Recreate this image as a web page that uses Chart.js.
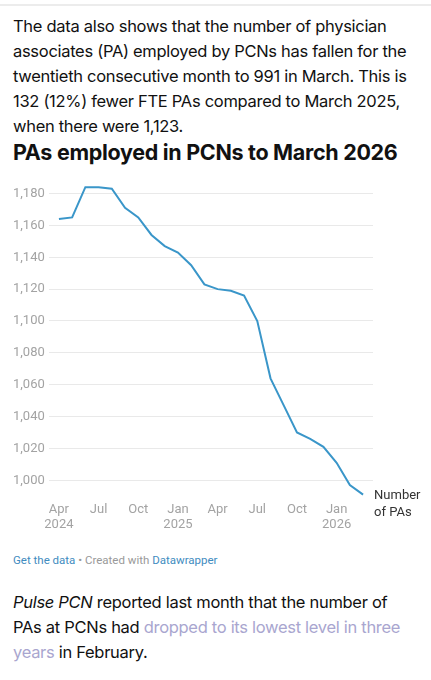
<!DOCTYPE html>
<html>
<head>
<meta charset="utf-8">
<script src="https://cdn.jsdelivr.net/npm/chart.js@4"></script>
<style>
  body { margin: 0; width: 431px; height: 680px; background: #fff; position: relative; overflow: hidden; font-family: Inter, "Open Sans", sans-serif; color: #111; }
  .rule { position: absolute; top: 4px; left: 0; width: 431px; height: 2px; background: #ececec; }
  .para { position: absolute; left: 13px; font-size: 16.5px; line-height: 25px; white-space: nowrap; letter-spacing: -0.3px; }
  .p1 { top: 14px; }
  .p2 { top: 590px; }
  h1 { position: absolute; left: 13px; top: 138px; margin: 0; font-size: 21.5px; font-weight: 700; line-height: 28px; letter-spacing: -0.3px; white-space: nowrap; }
  .foot { position: absolute; left: 13px; top: 553px; font-family: Roboto, sans-serif; font-size: 11.5px; color: #999; white-space: nowrap; }
  .foot a { color: #3f8cc0; text-decoration: none; }
  .link { color: #a9a6cf; }
  #wrap { position: absolute; left: 0; top: 170px; width: 431px; height: 370px; }
</style>
</head>
<body>
<div class="rule"></div>
<div class="para p1">The data also shows that the number of physician<br>associates (PA) employed by PCNs has fallen for the<br>twentieth consecutive month to 991 in March. This is<br>132 (12%) fewer FTE PAs compared to March 2025,<br>when there were 1,123.</div>
<h1>PAs employed in PCNs to March 2026</h1>
<div id="wrap"><canvas id="chartPAs"></canvas></div>
<div class="foot"><a>Get the data</a> • Created with <a>Datawrapper</a></div>
<div class="para p2"><i>Pulse PCN</i> reported last month that the number of<br>PAs at PCNs had <span class="link">dropped to its lowest level in three</span><br><span class="link">years</span> in February.</div>

<script>
// monthly, Apr 2024 .. Mar 2026
const months = ["Apr 2024","May 2024","Jun 2024","Jul 2024","Aug 2024","Sep 2024","Oct 2024","Nov 2024","Dec 2024",
  "Jan 2025","Feb 2025","Mar 2025","Apr 2025","May 2025","Jun 2025","Jul 2025","Aug 2025","Sep 2025","Oct 2025",
  "Nov 2025","Dec 2025","Jan 2026","Feb 2026","Mar 2026"];
const paCount = [1164, 1165, 1184, 1184, 1183, 1171, 1165, 1154, 1147, 1143, 1135, 1123,
  1120, 1119, 1116, 1100, 1064, 1047, 1030, 1026, 1021, 1011, 997, 991];
const xTickIndex = [0, 3, 6, 9, 12, 15, 18, 21];
const xTickLabels = [["Apr", "2024"], "Jul", "Oct", ["Jan", "2025"], "Apr", "Jul", "Oct", ["Jan", "2026"]];
const yTicks = [1000, 1020, 1040, 1060, 1080, 1100, 1120, 1140, 1160, 1180];
const seriesLabel = ["Number", "of PAs"];

const endLabel = {
  id: "endLabel",
  afterDatasetsDraw(chart) {
    const meta = chart.getDatasetMeta(0);
    const pt = meta.data[meta.data.length - 1];
    const ctx = chart.ctx;
    ctx.save();
    ctx.font = "13px Roboto";
    ctx.fillStyle = "#333";
    ctx.textBaseline = "middle";
    seriesLabel.forEach((t, i) => ctx.fillText(t, pt.x + 11, pt.y + 1 + i * 17));
    ctx.restore();
  }
};

const ctx = document.getElementById("chartPAs").getContext("2d");
new Chart(ctx, {
  type: "line",
  data: {
    datasets: [{
      data: paCount.map((v, i) => ({ x: i, y: v })),
      borderColor: "#3a96c9",
      borderWidth: 2,
      pointRadius: 0,
      tension: 0,
      fill: false
    }]
  },
  options: {
    responsive: true,
    maintainAspectRatio: false,
    animation: false,
    layout: { padding: { left: 13, right: 58, top: 6, bottom: 4.6 } },
    plugins: { legend: { display: false }, tooltip: { enabled: false } },
    scales: {
      x: {
        type: "linear",
        min: -0.75,
        max: 23.75,
        afterBuildTicks: (s) => { s.ticks = xTickIndex.map(v => ({ value: v })); },
        afterFit: (s) => { s.height = 36; },
        grid: { display: false },
        border: { display: false },
        ticks: {
          autoSkip: false,
          maxRotation: 0,
          padding: -5,
          color: "#a3a3a3",
          font: { family: "Roboto", size: 13, lineHeight: 1.15 },
          callback: (v) => xTickLabels[xTickIndex.indexOf(v)]
        }
      },
      y: {
        min: 988,
        max: 1188,
        afterBuildTicks: (s) => { s.ticks = yTicks.map(v => ({ value: v })); },
        afterFit: (s) => { s.width = 36; },
        grid: { color: "#e9e9e9", lineWidth: 1, drawTicks: false },
        border: { display: false },
        ticks: {
          padding: 3,
          color: "#a3a3a3",
          crossAlign: "far",
          font: { family: "Roboto", size: 13 },
          callback: (v) => v.toLocaleString("en-US")
        }
      }
    }
  },
  plugins: [endLabel]
});
</script>
</body>
</html>
